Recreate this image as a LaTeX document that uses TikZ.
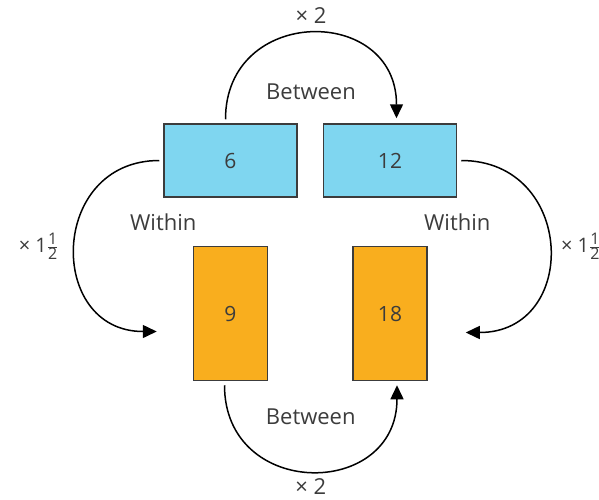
\documentclass[tikz,border=0pt]{standalone}
\usepackage{fontspec}
\setmainfont{Open Sans}
\usetikzlibrary{arrows.meta,positioning}

\definecolor{boxblue}{HTML}{7FD6F0}
\definecolor{boxorange}{HTML}{F9AE1E}
\definecolor{inkgrey}{HTML}{3C3C3C}
\newcommand{\onehalf}{1$\frac{\mbox{\fontsize{16}{16}\selectfont 1}}{\mbox{\fontsize{16}{16}\selectfont 2}}$}

\begin{document}
\begin{tikzpicture}[
  x=1pt, y=-1pt,
  wide/.style={draw=inkgrey,line width=1.5pt,fill=boxblue,minimum width=133pt,minimum height=73pt,
    text=inkgrey,font=\fontsize{21}{25}\selectfont},
  tall/.style={draw=inkgrey,line width=1.5pt,fill=boxorange,minimum width=74pt,minimum height=134pt,
    text=inkgrey,font=\fontsize{21}{25}\selectfont},
  lbl/.style={text=inkgrey,font=\fontsize{22}{26}\selectfont,inner sep=2pt},
  factor/.style={text=inkgrey,font=\fontsize{22}{26}\selectfont,inner sep=2pt},
  ratio/.style={text=inkgrey,font=\fontsize{20}{24}\selectfont,inner sep=2pt},
  flow/.style={line width=1.5pt,-{Triangle[length=14pt,width=13pt]}}
]
  \useasboundingbox (0,0) rectangle (599,499);

  % boxes
  \node[wide] (six) at (230.5,160.5) {6};
  \node[wide,right=25pt of six] (twelve) {12};
  \node[tall,below=48pt of six] (nine) {9};
  \node[tall,below=48pt of twelve] (eighteen) {18};

  \node[lbl,below=14pt of six.south west] (withinL) {Within};
  \node[lbl,below=14pt of twelve.south east] (withinR) {Within};

  % between
  \draw[flow] ([xshift=-5pt,yshift=4pt]six.north) to[out=90,in=90,looseness=1.7]
    node[factor,above=7pt] (topfac) {× 2}
    node[lbl,below=48pt] (betweenT) {Between}
    ([xshift=6.5pt,yshift=5pt]twelve.north);
  \draw[flow] ([xshift=-6pt,yshift=-4pt]nine.south) to[out=-90,in=-90,looseness=1.7]
    node[factor,below=5pt] (botfac) {× 2}
    node[lbl,above=44pt] (betweenB) {Between}
    ([xshift=7pt,yshift=-4pt]eighteen.south);

  % within
  \draw[flow] ([xshift=-4pt]six.west) to[out=180,in=180,looseness=1.65]
    node[ratio,left=14pt] (leftfac) {× \onehalf}
    ([xshift=-36pt,yshift=-18pt]nine.west);
  \draw[flow] ([xshift=4pt]twelve.east) to[out=0,in=0,looseness=1.7]
    node[ratio,right=9pt] (rightfac) {× \onehalf}
    ([xshift=38pt,yshift=-19pt]eighteen.east);
\end{tikzpicture}
\end{document}
